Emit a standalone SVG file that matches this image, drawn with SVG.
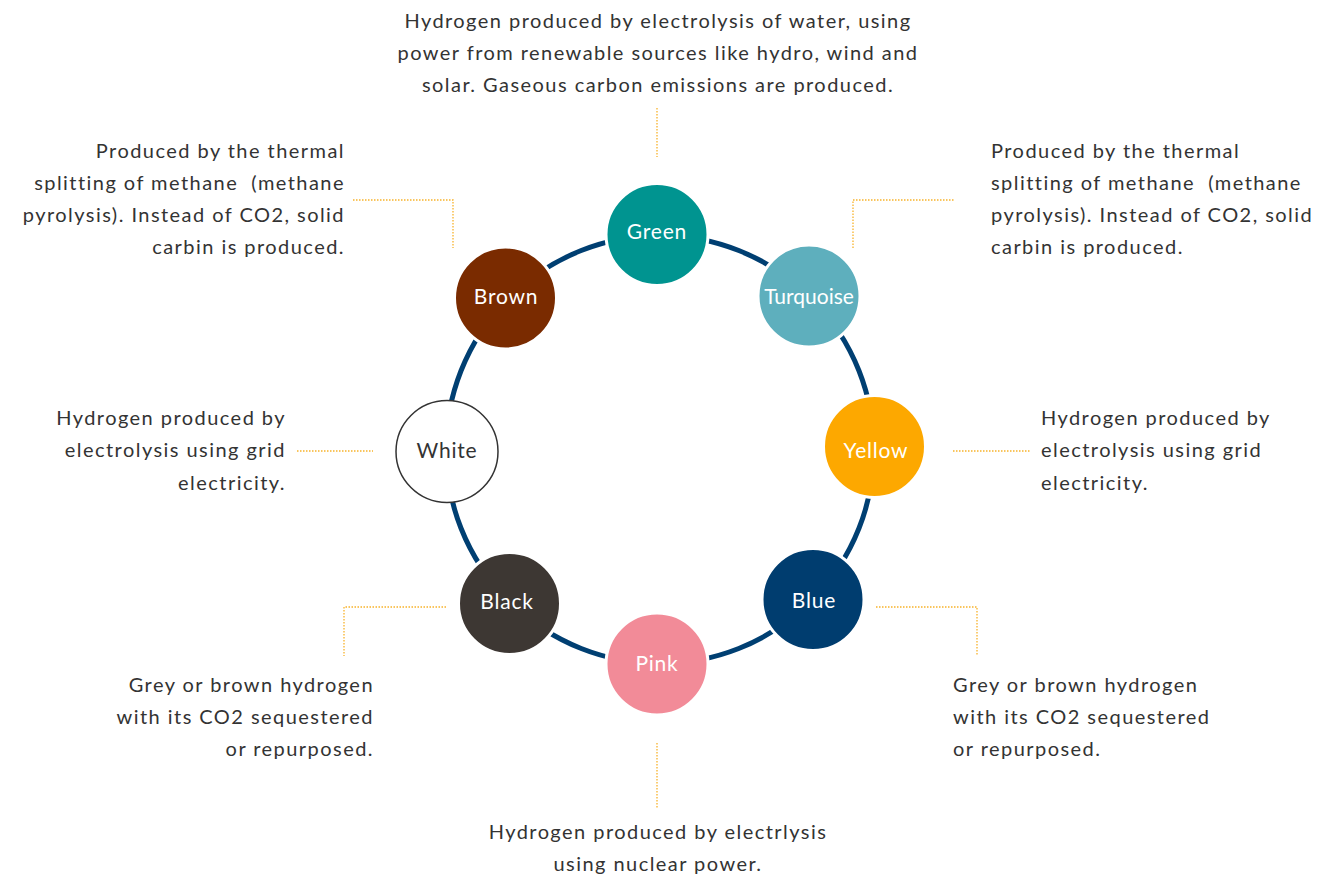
<svg xmlns="http://www.w3.org/2000/svg" width="1341" height="874" viewBox="0 0 1341 874">
<style>
.t{font-family:Lato,"Noto Sans",sans-serif;font-size:20px;fill:#333333;letter-spacing:1.45px}
.r{text-anchor:end}
.m{text-anchor:middle}
.lbl{font-family:Lato,"Noto Sans",sans-serif;font-size:21px;fill:#ffffff;text-anchor:middle;letter-spacing:0.8px}
.node{stroke:#ffffff;stroke-width:3}
.lead{fill:none;stroke:#f7b22a;stroke-width:1.3;stroke-dasharray:1.5 1.5}
</style>
<rect width="1341" height="874" fill="#ffffff"/>
<g id="connectors">
<circle cx="660" cy="449.5" r="214" fill="none" stroke="#003f72" stroke-width="5"/>
<path class="lead" d="M657 108V157"/>
<path class="lead" d="M353 200H453V248"/>
<path class="lead" d="M853 248V200H954"/>
<path class="lead" d="M297 451H373"/>
<path class="lead" d="M953 451H1030"/>
<path class="lead" d="M446 607H344V656"/>
<path class="lead" d="M876 607H977V656"/>
<path class="lead" d="M657 743V808"/>
</g>
<g id="green"><circle class="node" cx="657" cy="234.5" r="51" fill="#009490"/><text class="lbl" x="657" y="239">Green</text></g>
<g id="turquoise"><circle class="node" cx="809" cy="296" r="51" fill="#5eafbd"/><text class="lbl" x="809" y="304" style="letter-spacing:0px">Turquoise</text></g>
<g id="brown"><circle class="node" cx="505.5" cy="298" r="51" fill="#7a2b00"/><text class="lbl" x="506" y="304">Brown</text></g>
<g id="white"><circle cx="447" cy="451.5" r="51" fill="#ffffff" stroke="#333333" stroke-width="1.5"/><text class="lbl" x="447" y="458" style="fill:#333333">White</text></g>
<g id="yellow"><circle class="node" cx="874.5" cy="446.5" r="51" fill="#fda800"/><text class="lbl" x="876" y="458">Yellow</text></g>
<g id="black"><circle class="node" cx="509.5" cy="603.5" r="51" fill="#3d3733"/><text class="lbl" x="507" y="609">Black</text></g>
<g id="blue"><circle class="node" cx="813" cy="599.5" r="51" fill="#003d6f"/><text class="lbl" x="814" y="608">Blue</text></g>
<g id="pink"><circle class="node" cx="657" cy="664" r="51" fill="#f28b98"/><text class="lbl" x="657" y="671">Pink</text></g>
<g id="text-green">
<text class="t m" x="658" y="28">Hydrogen produced by electrolysis of water, using</text>
<text class="t m" x="658" y="60">power from renewable sources like hydro, wind and</text>
<text class="t m" x="658" y="92">solar. Gaseous carbon emissions are produced.</text>
</g>
<g id="text-brown">
<text class="t r" x="345" y="158">Produced by the thermal</text>
<text class="t r" x="345" y="190" xml:space="preserve">splitting of methane  (methane</text>
<text class="t r" x="345" y="222">pyrolysis). Instead of CO2, solid</text>
<text class="t r" x="345" y="254">carbin is produced.</text>
</g>
<g id="text-turquoise">
<text class="t" x="991" y="158">Produced by the thermal</text>
<text class="t" x="991" y="190" xml:space="preserve">splitting of methane  (methane</text>
<text class="t" x="991" y="222">pyrolysis). Instead of CO2, solid</text>
<text class="t" x="991" y="254">carbin is produced.</text>
</g>
<g id="text-white">
<text class="t r" x="286" y="425">Hydrogen produced by</text>
<text class="t r" x="286" y="457">electrolysis using grid</text>
<text class="t r" x="286" y="490">electricity.</text>
</g>
<g id="text-yellow">
<text class="t" x="1041" y="425">Hydrogen produced by</text>
<text class="t" x="1041" y="457">electrolysis using grid</text>
<text class="t" x="1041" y="490">electricity.</text>
</g>
<g id="text-black">
<text class="t r" x="374" y="692">Grey or brown hydrogen</text>
<text class="t r" x="374" y="724">with its CO2 sequestered</text>
<text class="t r" x="374" y="756">or repurposed.</text>
</g>
<g id="text-blue">
<text class="t" x="953" y="692">Grey or brown hydrogen</text>
<text class="t" x="953" y="724">with its CO2 sequestered</text>
<text class="t" x="953" y="756">or repurposed.</text>
</g>
<g id="text-pink">
<text class="t m" x="658" y="839">Hydrogen produced by electrlysis</text>
<text class="t m" x="658" y="871">using nuclear power.</text>
</g>
</svg>
